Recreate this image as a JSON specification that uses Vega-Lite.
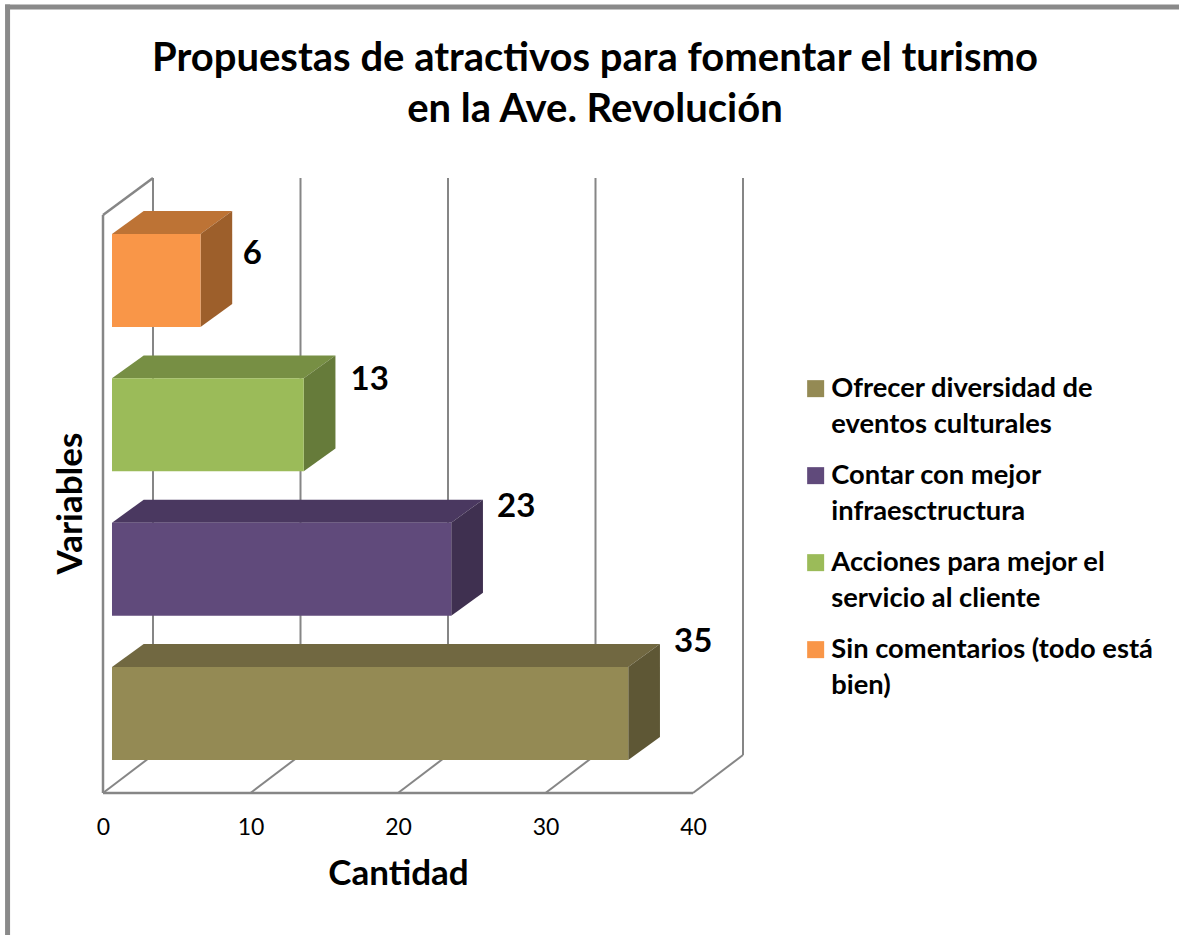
{
"$schema":"https://vega.github.io/schema/vega-lite/v6.json",
"width":640,"height":615,
"autosize":{"type":"none"},
"padding":{"left":103,"top":178,"right":436,"bottom":142},
"background":"white",
"title":{"text":["Propuestas de atractivos para fomentar el turismo","en la Ave. Revolución"],"font":"Lato","fontSize":40,"fontWeight":"bold","color":"black","lineHeight":51,"anchor":"middle","dx":172,"offset":-127},
"config":{"view":{"stroke":null},"font":"Lato"},
"datasets":{
"barras":[
{"categoria":"Ofrecer diversidad de eventos culturales","valor":35,"orden":0},
{"categoria":"Contar con mejor infraesctructura","valor":23,"orden":1},
{"categoria":"Acciones para mejor el servicio al cliente","valor":13,"orden":2},
{"categoria":"Sin comentarios (todo está bien)","valor":6,"orden":3}],
"marcas":[{"marca":0},{"marca":10},{"marca":20},{"marca":30},{"marca":40}],
"marco":[{"xa":-6.47,"xb":-6.47,"ya":-0.984,"yb":5.446},{"xa":-6.47,"xb":73,"ya":5.446,"yb":5.446}],
"paredes":[{"xa":0,"xb":40,"ya":0,"yb":0},{"xa":0,"xb":0,"ya":0,"yb":4.005},{"xa":0,"xb":3.39,"ya":4.005,"yb":4.261}]
},
"layer":[
{"data":{"name":"marco"},"mark":{"type":"rule","color":"#8A8A8A","strokeWidth":5,"strokeCap":"square"},
 "encoding":{"x":{"field":"xa","type":"quantitative","scale":{"domain":[0,43.39],"nice":false,"zero":false},
   "axis":{"values":[0,10,20,30,40],"grid":false,"domain":false,"ticks":false,"labelFont":"Lato","labelFontSize":23,"labelColor":"black","labelPadding":23,"labelFlush":false,"title":"Cantidad","titleFont":"Lato","titleFontSize":35,"titleFontWeight":"bold","titleColor":"black","titleX":295,"titleY":80,"titleBaseline":"middle"}},
  "x2":{"field":"xb"},
  "y":{"field":"ya","type":"quantitative","scale":{"domain":[0,4.261],"nice":false,"zero":false},
   "axis":{"labels":false,"grid":false,"domain":false,"ticks":false,"title":"Variables","titleFont":"Lato","titleFontSize":35,"titleFontWeight":"bold","titleColor":"black","titleX":-33,"titleY":325,"titleBaseline":"middle"}},
  "y2":{"field":"yb"}}},
{"data":{"name":"marcas"},"transform":[{"calculate":"datum.marca+3.39","as":"xa"},{"calculate":"0.2633","as":"ya"},{"calculate":"4.261","as":"yb"}],
 "mark":{"type":"rule","color":"#868686","strokeWidth":2},
 "encoding":{"x":{"field":"xa","type":"quantitative","scale":{"domain":[0,43.39],"nice":false,"zero":false}},
  "y":{"field":"ya","type":"quantitative","scale":{"domain":[0,4.261],"nice":false,"zero":false}},"y2":{"field":"yb"}}},
{"data":{"name":"marcas"},"transform":[{"calculate":"datum.marca+3.39","as":"xb"},{"calculate":"0","as":"ya"},{"calculate":"0.2633","as":"yb"}],
 "mark":{"type":"rule","color":"#868686","strokeWidth":2},
 "encoding":{"x":{"field":"marca","type":"quantitative","scale":{"domain":[0,43.39],"nice":false,"zero":false}},"x2":{"field":"xb"},
  "y":{"field":"ya","type":"quantitative","scale":{"domain":[0,4.261],"nice":false,"zero":false}},"y2":{"field":"yb"}}},
{"data":{"name":"paredes"},"mark":{"type":"rule","color":"#868686","strokeWidth":2.5},
 "encoding":{"x":{"field":"xa","type":"quantitative","scale":{"domain":[0,43.39],"nice":false,"zero":false}},"x2":{"field":"xb"},
  "y":{"field":"ya","type":"quantitative","scale":{"domain":[0,4.261],"nice":false,"zero":false}},"y2":{"field":"yb"}}},
{"data":{"name":"barras"},
 "transform":[{"calculate":"[0,1]","as":"d"},{"flatten":["d"]},
  {"calculate":"0.61+datum.d*2.15","as":"xa"},{"calculate":"datum.valor+0.61+datum.d*2.15","as":"xb"},
  {"calculate":"datum.orden+0.873+datum.d*0.159","as":"ya"}],
 "mark":{"type":"area","orient":"horizontal","interpolate":"linear"},
 "encoding":{"y":{"field":"ya","type":"quantitative","scale":{"domain":[0,4.261],"nice":false,"zero":false}},
  "x":{"field":"xa","type":"quantitative","scale":{"domain":[0,43.39],"nice":false,"zero":false}},"x2":{"field":"xb"},
  "color":{"field":"categoria","type":"nominal","legend":null,"scale":{"domain":["Ofrecer diversidad de eventos culturales","Contar con mejor infraesctructura","Acciones para mejor el servicio al cliente","Sin comentarios (todo está bien)"],"range":["#716841","#4A3860","#778F44","#BD7335"]}}}},
{"data":{"name":"barras"},
 "transform":[{"calculate":"[0,1]","as":"d"},{"flatten":["d"]},
  {"calculate":"datum.valor+0.61+datum.d*2.15","as":"xa"},
  {"calculate":"datum.orden+0.2286+datum.d*0.159","as":"ya"},{"calculate":"datum.orden+0.873+datum.d*0.159","as":"yb"}],
 "mark":{"type":"area","orient":"vertical","interpolate":"linear"},
 "encoding":{"x":{"field":"xa","type":"quantitative","scale":{"domain":[0,43.39],"nice":false,"zero":false}},
  "y":{"field":"ya","type":"quantitative","scale":{"domain":[0,4.261],"nice":false,"zero":false}},"y2":{"field":"yb"},
  "color":{"field":"categoria","type":"nominal","legend":null,"scale":{"domain":["Ofrecer diversidad de eventos culturales","Contar con mejor infraesctructura","Acciones para mejor el servicio al cliente","Sin comentarios (todo está bien)"],"range":["#5E5735","#3F3050","#667B3A","#9D5F2B"]}}}},
{"data":{"name":"barras"},
 "transform":[{"calculate":"0.61","as":"xa"},{"calculate":"datum.valor+0.61","as":"xb"},{"calculate":"datum.orden+0.2286","as":"ya"},{"calculate":"datum.orden+0.873","as":"yb"}],
 "mark":{"type":"rect"},
 "encoding":{"x":{"field":"xa","type":"quantitative","scale":{"domain":[0,43.39],"nice":false,"zero":false}},"x2":{"field":"xb"},
  "y":{"field":"ya","type":"quantitative","scale":{"domain":[0,4.261],"nice":false,"zero":false}},"y2":{"field":"yb"},
  "color":{"field":"categoria","type":"nominal","scale":{"domain":["Ofrecer diversidad de eventos culturales","Contar con mejor infraesctructura","Acciones para mejor el servicio al cliente","Sin comentarios (todo está bien)"],"range":["#948A54","#604A7B","#9BBB59","#F99648"]},
   "legend":{"orient":"none","legendX":699,"legendY":197,"title":null,"padding":0,"symbolType":"square","symbolSize":289,"symbolStrokeWidth":0,"labelFont":"Lato","labelFontSize":27.3,"labelFontWeight":"bold","labelColor":"black","labelLimit":400,"labelOffset":2,"rowPadding":23,
    "labelExpr":"{'Ofrecer diversidad de eventos culturales':['Ofrecer diversidad de','eventos culturales'],'Contar con mejor infraesctructura':['Contar con mejor','infraesctructura'],'Acciones para mejor el servicio al cliente':['Acciones para mejor el','servicio al cliente'],'Sin comentarios (todo está bien)':['Sin comentarios (todo está','bien)']}[datum.label]",
    "encoding":{"labels":{"lineHeight":{"value":36}}}}}}},
{"data":{"name":"barras"},
 "transform":[{"calculate":"datum.valor+0.61+[4.4,4.4,4.47,3.52][datum.orden]","as":"lx"},{"calculate":"datum.orden+0.858+[0.187,0.125,0,-0.125][datum.orden]","as":"ly"}],
 "mark":{"type":"text","font":"Lato","fontSize":33,"fontWeight":"bold","color":"black","align":"center","baseline":"middle"},
 "encoding":{"x":{"field":"lx","type":"quantitative","scale":{"domain":[0,43.39],"nice":false,"zero":false}},
  "y":{"field":"ly","type":"quantitative","scale":{"domain":[0,4.261],"nice":false,"zero":false}},
  "text":{"field":"valor","type":"quantitative"}}}
],
"resolve":{"scale":{"color":"independent"}}
}
